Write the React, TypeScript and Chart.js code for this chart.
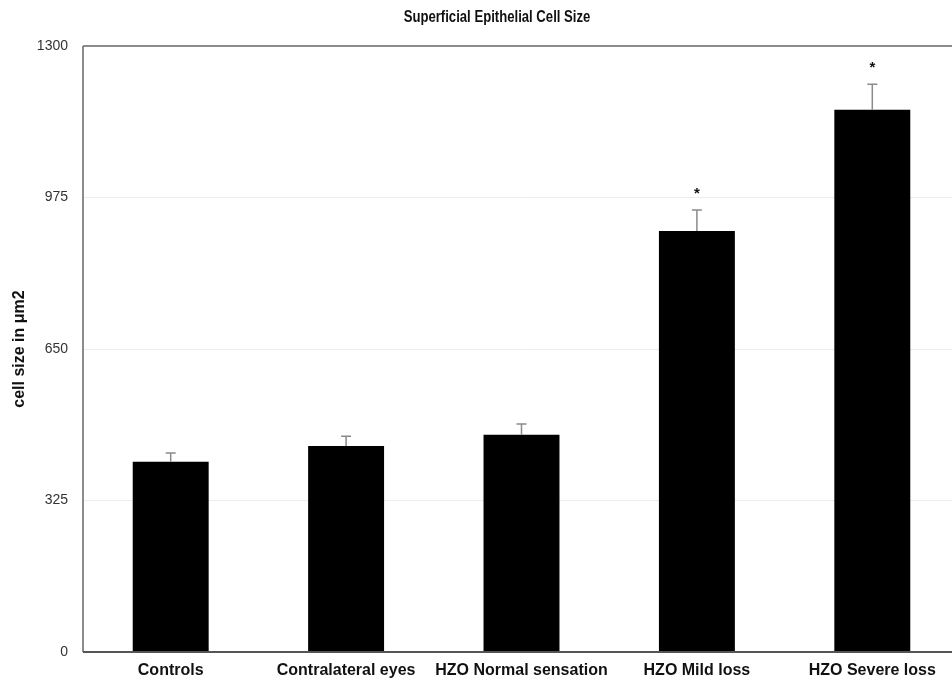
import React, { useEffect, useRef } from "react";
import { Chart, registerables } from "chart.js";

Chart.register(...registerables);

const categories = ["Controls", "Contralateral eyes", "HZO Normal sensation", "HZO Mild loss", "HZO Severe loss"];
const cellSize = [408, 442, 466, 903, 1163];
const errorUp = [19, 21, 23, 45, 55];
const significant = [false, false, false, true, true];
const yTicks = [0, 325, 650, 975, 1300];
const titleText = "Superficial Epithelial Cell Size";

const SANS = "'Liberation Sans', Arial, Helvetica, sans-serif";

const extrasPlugin = {
  id: "extras",
  afterDatasetsDraw(chart: any) {
    const { ctx, chartArea, scales } = chart;
    const x = scales.x;
    const y = scales.y;
    ctx.save();
    // error bars
    ctx.strokeStyle = "#8a8a8a";
    ctx.lineWidth = 1.5;
    cellSize.forEach((v, i) => {
      const cx = x.getPixelForValue(i);
      const yTop = y.getPixelForValue(v);
      const yErr = y.getPixelForValue(v + errorUp[i]);
      ctx.beginPath();
      ctx.moveTo(cx, yTop);
      ctx.lineTo(cx, yErr);
      ctx.moveTo(cx - 5, yErr);
      ctx.lineTo(cx + 5, yErr);
      ctx.stroke();
      if (significant[i]) {
        ctx.fillStyle = "#111";
        ctx.font = "bold 15px " + SANS;
        ctx.textAlign = "center";
        ctx.textBaseline = "middle";
        ctx.fillText("*", cx, yErr - 16);
      }
    });
    // frame lines
    ctx.strokeStyle = "#8c8c8c";
    ctx.lineWidth = 2;
    ctx.beginPath();
    ctx.moveTo(chartArea.left, chartArea.top);
    ctx.lineTo(chartArea.right, chartArea.top);
    ctx.stroke();
    ctx.strokeStyle = "#666";
    ctx.lineWidth = 1.5;
    ctx.beginPath();
    ctx.moveTo(chartArea.left, chartArea.top);
    ctx.lineTo(chartArea.left, chartArea.bottom);
    ctx.stroke();
    ctx.strokeStyle = "#555";
    ctx.lineWidth = 2;
    ctx.beginPath();
    ctx.moveTo(chartArea.left, chartArea.bottom);
    ctx.lineTo(chartArea.right, chartArea.bottom);
    ctx.stroke();
    // condensed bold title
    ctx.fillStyle = "#111";
    ctx.font = "bold 16px " + SANS;
    ctx.textAlign = "center";
    ctx.textBaseline = "middle";
    ctx.translate(497, 18);
    ctx.scale(0.82, 1);
    ctx.fillText(titleText, 0, 0);
    ctx.restore();
  },
};

export default function App() {
  const ref = useRef<HTMLCanvasElement | null>(null);
  useEffect(() => {
    if (!ref.current) return;
    const chart = new Chart(ref.current, {
      type: "bar",
      data: {
        labels: categories,
        datasets: [
          {
            data: cellSize,
            backgroundColor: "#000",
            borderWidth: 0,
            categoryPercentage: 1,
            barPercentage: 0.433,
          },
        ],
      },
      options: {
        animation: false,
        responsive: false,
        maintainAspectRatio: false,
        layout: { padding: { left: 10, right: 10, top: 46, bottom: 0 } },
        plugins: {
          legend: { display: false },
          tooltip: { enabled: false },
          title: { display: false },
        },
        scales: {
          x: {
            grid: { display: false, drawTicks: false },
            border: { display: false },
            ticks: {
              color: "#111",
              font: { family: SANS, size: 16, weight: "bold" },
              padding: 9,
              maxRotation: 0,
              autoSkip: false,
            },
            afterFit(scale: any) {
              scale.height = 29;
            },
          },
          y: {
            min: 0,
            max: 1300,
            afterBuildTicks(scale: any) {
              scale.ticks = yTicks.map((v) => ({ value: v }));
            },
            grid: { color: "#ececec", drawTicks: false, lineWidth: 1 },
            border: { display: false },
            ticks: {
              color: "#333",
              font: { family: SANS, size: 14 },
              padding: 15,
              callback: (v: any) => String(v),
            },
            title: {
              display: true,
              text: "cell size in μm2",
              color: "#111",
              font: { family: SANS, size: 16, weight: "bold" },
              padding: 0,
            },
            afterFit(scale: any) {
              scale.width = 73;
            },
          },
        },
      },
      plugins: [extrasPlugin],
    });
    return () => chart.destroy();
  }, []);
  return (
    <div style={{ position: "fixed", left: 0, top: 0, width: 952, height: 681, overflow: "hidden", background: "#fff" }}>
      <canvas ref={ref} width={970} height={681} style={{ width: 970, height: 681, display: "block" }} />
    </div>
  );
}
